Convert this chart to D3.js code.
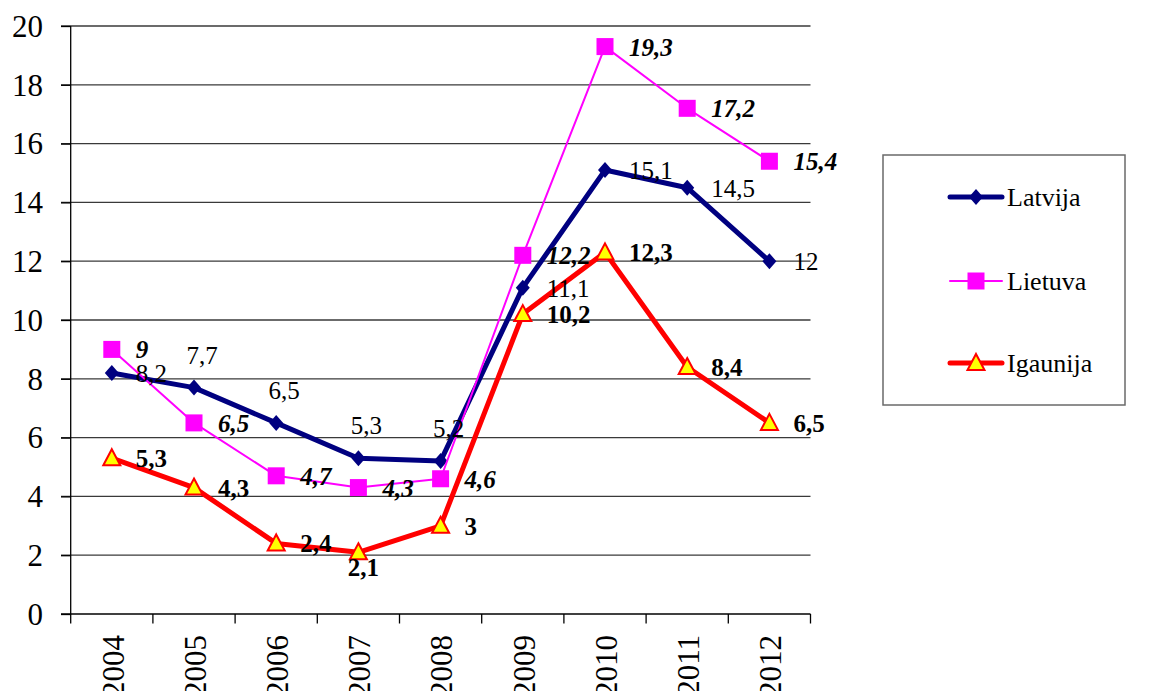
<!DOCTYPE html>
<html><head><meta charset="utf-8">
<script src="https://cdn.jsdelivr.net/npm/d3@7"></script>
</head><body style="margin:0">
<svg id="c" width="1153" height="691"></svg>
<script>
const years = ["2004","2005","2006","2007","2008","2009","2010","2011","2012"];
const latvija = [8.2,7.7,6.5,5.3,5.2,11.1,15.1,14.5,12];
const lietuva = [9,6.5,4.7,4.3,4.6,12.2,19.3,17.2,15.4];
const igaunija = [5.3,4.3,2.4,2.1,3,10.2,12.3,8.4,6.5];
const yTicks = [0,2,4,6,8,10,12,14,16,18,20];
const seriesNames = ["Latvija","Lietuva","Igaunija"];
// label placement codes: r = right, t = top, b = below
const latPos = ["r","t","t","t","t","r","r","r","r"];
const lietPos = ["r","r","r","r","r","r","r","r","r"];
const igPos = ["r","r","r","b","r","r","r","r","r"];

const FONT = '"Liberation Serif"';
const fmt = v => String(v).replace(".", ",");
const svg = d3.select("#c").style("font-family", FONT);
const x = d3.scaleBand().domain(years).range([70.7, 810.5]);
const y = d3.scaleLinear().domain([0,20]).range([614, 26]);
const cx = d => x(d) + x.bandwidth()/2;

// gridlines
svg.append("g").selectAll("line").data(yTicks.filter(t=>t>0)).join("line")
  .attr("x1", 61).attr("x2", 810.5).attr("y1", d=>y(d)).attr("y2", d=>y(d))
  .attr("stroke", "#3a3a3a").attr("stroke-width", 1.3);

// y axis (tick labels drawn manually from the scale)
const ya = svg.append("g").attr("transform","translate(70.7,0)")
  .call(d3.axisLeft(y).tickValues(yTicks).tickSize(9.7).tickFormat(""));
ya.attr("font-family", null).attr("font-size", null);
ya.select(".domain").attr("stroke","#000").attr("stroke-width",1.3).attr("d","M0,614V26");
ya.selectAll(".tick line").attr("stroke","#000").attr("stroke-width",1.3);
svg.append("g").selectAll("text").data(yTicks).join("text")
  .attr("x", 43).attr("y", d=>y(d)).attr("dy","0.35em").attr("text-anchor","end")
  .attr("font-size",31).style("font-family",FONT).text(d=>d);

// x axis
const xa = svg.append("g").attr("transform","translate(0,614)");
xa.append("line").attr("x1",61).attr("x2",810.5).attr("y1",0).attr("y2",0).attr("stroke","#000").attr("stroke-width",1.3);
xa.selectAll("line.tk").data(d3.range(years.length+1)).join("line").attr("class","tk")
  .attr("x1", i => x.range()[0] + i*x.bandwidth()).attr("x2", i => x.range()[0] + i*x.bandwidth())
  .attr("y1",0).attr("y2",9.5).attr("stroke","#000").attr("stroke-width",1.3);
xa.selectAll("text").data(years).join("text")
  .attr("transform", d => `translate(${cx(d)+1},21) rotate(-90)`)
  .attr("text-anchor","end").attr("dy","0.35em")
  .attr("font-size",31).style("font-family",FONT).text(d=>d);

// series
const series = [
  {name:"Latvija", vals:latvija, pos:latPos, color:"#000080", w:5, marker:"diamond", lab:{weight:"normal",style:"normal"}},
  {name:"Lietuva", vals:lietuva, pos:lietPos, color:"#FF00FF", w:2, marker:"square", lab:{weight:"bold",style:"italic"}},
  {name:"Igaunija", vals:igaunija, pos:igPos, color:"#FF0000", w:5, marker:"triangle", lab:{weight:"bold",style:"normal"}}
];
function drawMarker(g, type, color, px, py){
  if(type==="diamond"){
    g.append("path").attr("d",`M${px},${py-8}L${px+7},${py}L${px},${py+8}L${px-7},${py}Z`).attr("fill",color);
  } else if(type==="square"){
    g.append("rect").attr("x",px-8.5).attr("y",py-8.5).attr("width",17).attr("height",17).attr("fill",color);
  } else {
    g.append("path").attr("d",`M${px},${py-9}L${px+8.5},${py+7}L${px-8.5},${py+7}Z`)
      .attr("fill","#FFFF00").attr("stroke",color).attr("stroke-width",2);
  }
}
const line = d3.line().x(d=>cx(d[0])).y(d=>y(d[1]));
series.forEach(s=>{
  const pts = years.map((yr,i)=>[yr, s.vals[i]]);
  const g = svg.append("g");
  g.append("path").attr("d", line(pts)).attr("fill","none").attr("stroke",s.color)
    .attr("stroke-width",s.w).attr("stroke-linejoin","round").attr("stroke-linecap","round");
  pts.forEach(p=>drawMarker(g, s.marker, s.color, cx(p[0]), y(p[1])));
});
// labels
series.forEach(s=>{
  const g = svg.append("g");
  years.forEach((yr,i)=>{
    const px = cx(yr), py = y(s.vals[i]), p = s.pos[i];
    const t = g.append("text").attr("fill","#000").attr("font-size",25)
      .style("font-family",FONT)
      .attr("font-weight",s.lab.weight).attr("font-style",s.lab.style).text(fmt(s.vals[i]));
    if(p==="r") t.attr("x",px+24).attr("y",py+9);
    else if(p==="t") t.attr("x",px+8).attr("y",py-24).attr("text-anchor","middle");
    else t.attr("x",px+5).attr("y",py+24).attr("text-anchor","middle");
  });
});

// legend
const lg = svg.append("g");
lg.append("rect").attr("x",883).attr("y",155).attr("width",242).attr("height",250)
  .attr("fill","#fff").attr("stroke","#6a6a6a").attr("stroke-width",1.5);
const ly = [197, 281, 363];
series.forEach((s,i)=>{
  lg.append("line").attr("x1",950).attr("x2",1002).attr("y1",ly[i]).attr("y2",ly[i])
    .attr("stroke",s.color).attr("stroke-width",s.w).attr("stroke-linecap","round");
  drawMarker(lg, s.marker, s.color, 976, ly[i]);
  lg.append("text").attr("x",1007).attr("y",ly[i]+9).attr("font-size",26)
    .style("font-family",FONT).text(seriesNames[i]);
});
</script></body></html>
